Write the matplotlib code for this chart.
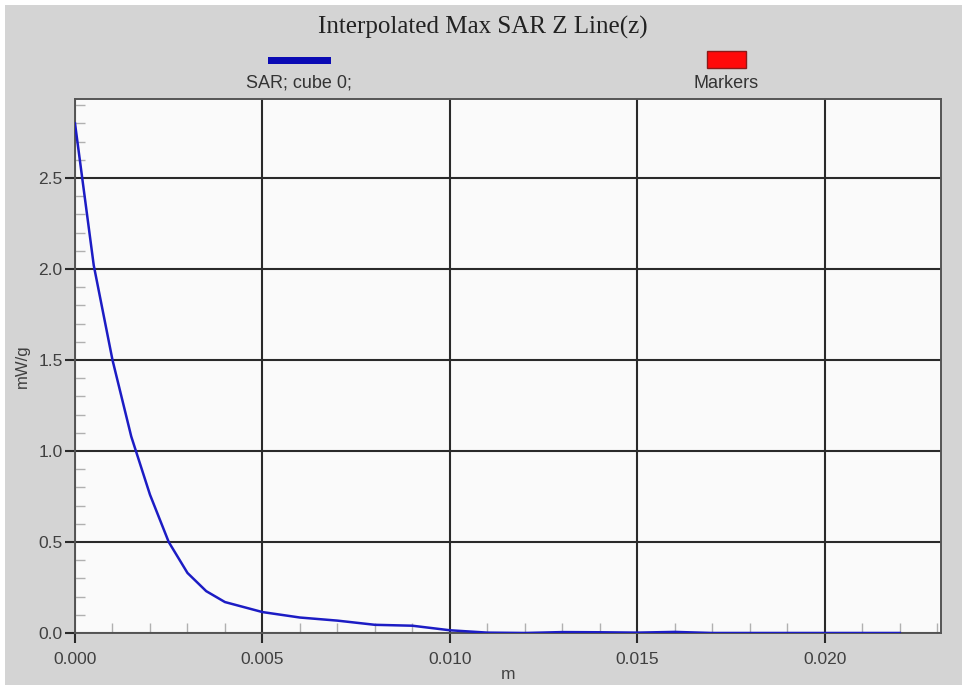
import matplotlib
matplotlib.use('Agg')
import matplotlib.pyplot as plt
from matplotlib.patches import Rectangle
from matplotlib.ticker import MultipleLocator, FormatStrFormatter

# SAR along z line
z = [0.0, 0.0005, 0.001, 0.0015, 0.002, 0.0025, 0.003, 0.0035, 0.004, 0.005,
     0.006, 0.007, 0.008, 0.009, 0.010, 0.011, 0.012, 0.013, 0.014, 0.015,
     0.016, 0.017, 0.018, 0.019, 0.020, 0.021, 0.022]
sar = [2.80, 2.02, 1.50, 1.08, 0.76, 0.50, 0.33, 0.23, 0.17, 0.115,
       0.085, 0.068, 0.045, 0.040, 0.015, 0.002, 0.0, 0.005, 0.004, 0.002,
       0.006, 0.0, 0.0, 0.0, 0.0, 0.0, 0.0]

title = 'Interpolated Max SAR Z Line(z)'
series_name = 'SAR; cube 0;'
marker_name = 'Markers'

W, H = 965, 689
fig = plt.figure(figsize=(W / 100, H / 100), dpi=100, facecolor='white')
fig.patches.append(Rectangle((5 / W, 4 / H), 957 / W, 680 / H, transform=fig.transFigure,
                             facecolor='#d4d4d4', edgecolor='none', zorder=-10))

ax = fig.add_axes([75 / W, (H - 633) / H, 866 / W, 534 / H])
ax.set_facecolor('#fafafa')
ax.plot(z, sar, color='#1c1cc4', lw=1.8, zorder=3)

ax.set_xlim(0, 0.0231)
ax.set_ylim(0, 2.934)
ax.xaxis.set_major_locator(MultipleLocator(0.005))
ax.xaxis.set_minor_locator(MultipleLocator(0.001))
ax.yaxis.set_major_locator(MultipleLocator(0.5))
ax.yaxis.set_minor_locator(MultipleLocator(0.1))
ax.xaxis.set_major_formatter(FormatStrFormatter('%.3f'))
ax.yaxis.set_major_formatter(FormatStrFormatter('%.1f'))

ax.grid(True, which='major', color='#2a2a2a', lw=1.5)
ax.tick_params(which='major', direction='out', length=7, width=1.5, color='#2a2a2a',
               labelsize=12.5, labelcolor='#404040', pad=2)
ax.tick_params(axis='x', which='major', pad=7)
ax.tick_params(which='minor', direction='in', length=7, width=1, color='#b0b0b0')
for s in ax.spines.values():
    s.set_color('#555555')
    s.set_linewidth(1.4)

ax.set_xlabel('m', fontsize=12.5, color='#404040', labelpad=0, family='Liberation Sans')
ax.set_ylabel('mW/g', fontsize=12, color='#404040', labelpad=6, family='Liberation Sans')
for lab in ax.get_xticklabels() + ax.get_yticklabels():
    lab.set_family('Liberation Sans')

fig.text(0.5, 1 - 27 / H, title, ha='center', va='center', fontsize=18,
         family='Liberation Serif', color='#222222')

# legend drawn above the plot
fig.patches.append(Rectangle((268 / W, 1 - 64 / H), 63 / W, 7 / H, transform=fig.transFigure,
                             facecolor='#0a0ab4', edgecolor='none'))
fig.patches.append(Rectangle((707 / W, 1 - 68 / H), 39 / W, 17 / H, transform=fig.transFigure,
                             facecolor='#ff0a0a', edgecolor='#8a1a1a', lw=1))
fig.text(299 / W, 1 - 83 / H, series_name, ha='center', va='center', fontsize=13,
         color='#333333', family='Liberation Sans')
fig.text(726 / W, 1 - 83 / H, marker_name, ha='center', va='center', fontsize=13,
         color='#333333', family='Liberation Sans')

fig.savefig('out.png', dpi=100, facecolor=fig.get_facecolor())
